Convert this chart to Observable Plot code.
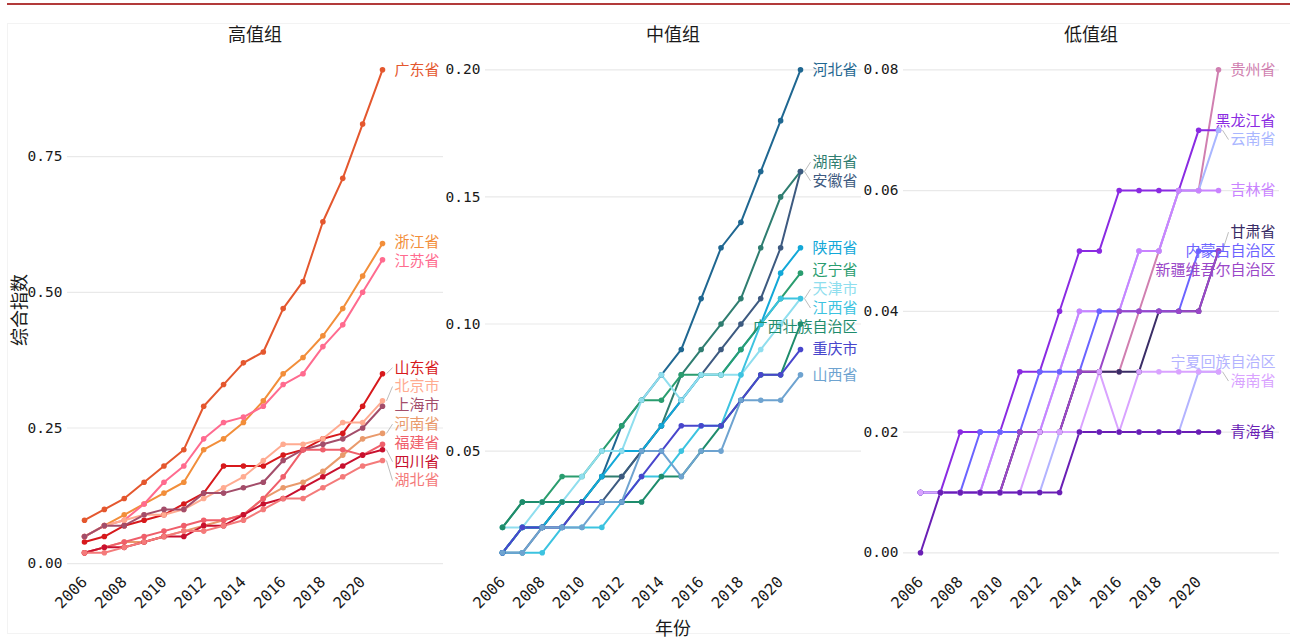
<!DOCTYPE html>
<html><head><meta charset="utf-8">
<script src="https://cdn.jsdelivr.net/npm/d3@7"></script>
<script src="https://cdn.jsdelivr.net/npm/@observablehq/plot@0.6"></script>
<style>
body{margin:0;background:#fff;font-family:"Noto Sans CJK SC",sans-serif;}
#root{position:relative;width:1290px;height:639px;overflow:hidden;background:#fff;}
.abs{position:absolute;white-space:nowrap;}
.title{font-size:18px;color:#1a1a1a;transform:translateX(-50%);top:20px;}
</style></head><body><div id="root"></div>
<script>
// ---------- data ----------
const years = [2006,2007,2008,2009,2010,2011,2012,2013,2014,2015,2016,2017,2018,2019,2020,2021];
const yearTicks = [2006,2008,2010,2012,2014,2016,2018,2020];
const panelTitles = ["高值组","中值组","低值组"];

const highNames = ["广东省","浙江省","江苏省","山东省","北京市","上海市","河南省","福建省","四川省","湖北省"];
const highColors = ["#e4572e","#f28e3a","#ff6b8f","#d7191c","#ffab91","#a34d6a","#e99a6c","#ef5f6b","#c8102e","#f47a7a"];
const highValues = [
  [0.08,0.10,0.12,0.15,0.18,0.21,0.29,0.33,0.37,0.39,0.47,0.52,0.63,0.71,0.81,0.91],
  [0.05,0.07,0.09,0.11,0.13,0.15,0.21,0.23,0.26,0.30,0.35,0.38,0.42,0.47,0.53,0.59],
  [0.05,0.07,0.08,0.11,0.15,0.18,0.23,0.26,0.27,0.29,0.33,0.35,0.40,0.44,0.50,0.56],
  [0.04,0.05,0.07,0.08,0.09,0.11,0.13,0.18,0.18,0.18,0.20,0.21,0.23,0.24,0.29,0.35],
  [0.05,0.07,0.08,0.09,0.09,0.10,0.12,0.14,0.16,0.19,0.22,0.22,0.23,0.26,0.26,0.30],
  [0.05,0.07,0.07,0.09,0.10,0.10,0.13,0.13,0.14,0.15,0.19,0.21,0.22,0.23,0.25,0.29],
  [0.02,0.03,0.04,0.04,0.05,0.06,0.07,0.08,0.09,0.12,0.14,0.15,0.17,0.20,0.23,0.24],
  [0.02,0.03,0.04,0.05,0.06,0.07,0.08,0.08,0.09,0.12,0.16,0.21,0.21,0.21,0.20,0.22],
  [0.02,0.03,0.03,0.04,0.05,0.05,0.07,0.07,0.09,0.11,0.12,0.14,0.16,0.18,0.20,0.21],
  [0.02,0.02,0.03,0.04,0.05,0.06,0.06,0.07,0.08,0.10,0.12,0.12,0.14,0.16,0.18,0.19]
];

const midNames = ["河北省","湖南省","安徽省","陕西省","辽宁省","天津市","江西省","广西壮族自治区","重庆市","山西省"];
const midColors = ["#1f6791","#2f7d70","#3d5a80","#12a8d8","#2a9d6f","#8fdeee","#3cc3e0","#1e8c6c","#4846cc","#6ea3d0"];
const midValues = [
  [0.01,0.02,0.02,0.03,0.03,0.04,0.06,0.07,0.08,0.09,0.11,0.13,0.14,0.16,0.18,0.20],
  [0.01,0.02,0.02,0.03,0.03,0.04,0.04,0.05,0.06,0.08,0.09,0.10,0.11,0.13,0.15,0.16],
  [0.01,0.01,0.02,0.02,0.03,0.03,0.04,0.05,0.06,0.07,0.08,0.09,0.10,0.11,0.13,0.16],
  [0.01,0.02,0.02,0.03,0.03,0.04,0.05,0.05,0.06,0.07,0.08,0.08,0.09,0.10,0.12,0.13],
  [0.02,0.03,0.03,0.04,0.04,0.05,0.06,0.07,0.07,0.08,0.08,0.08,0.09,0.10,0.11,0.12],
  [0.02,0.02,0.03,0.03,0.04,0.05,0.05,0.07,0.08,0.07,0.08,0.08,0.08,0.09,0.10,0.11],
  [0.01,0.01,0.01,0.02,0.02,0.02,0.03,0.04,0.04,0.05,0.06,0.06,0.08,0.10,0.11,0.11],
  [0.02,0.03,0.03,0.03,0.03,0.03,0.03,0.03,0.04,0.04,0.05,0.06,0.07,0.08,0.08,0.10],
  [0.01,0.02,0.02,0.02,0.03,0.03,0.03,0.04,0.05,0.06,0.06,0.06,0.07,0.08,0.08,0.09],
  [0.01,0.01,0.02,0.02,0.02,0.03,0.03,0.05,0.05,0.04,0.05,0.05,0.07,0.07,0.07,0.08]
];

const lowNames = ["贵州省","黑龙江省","云南省","吉林省","甘肃省","内蒙古自治区","新疆维吾尔自治区","宁夏回族自治区","海南省","青海省"];
const lowColors = ["#d07fb0","#8a2be2","#a9b6ff","#c983ff","#3a2d66","#6c63ff","#9a47c8","#b3b3ff","#d9a3ff","#6a1fb5"];
const lowValues = [
  [0.01,0.01,0.01,0.01,0.01,0.02,0.02,0.02,0.03,0.03,0.03,0.04,0.05,0.06,0.06,0.08],
  [0.01,0.01,0.02,0.02,0.02,0.03,0.03,0.04,0.05,0.05,0.06,0.06,0.06,0.06,0.07,0.07],
  [0.01,0.01,0.01,0.01,0.02,0.02,0.02,0.03,0.04,0.04,0.04,0.05,0.05,0.06,0.06,0.07],
  [0.01,0.01,0.01,0.01,0.02,0.02,0.02,0.03,0.04,0.04,0.04,0.05,0.05,0.06,0.06,0.06],
  [0.01,0.01,0.01,0.01,0.01,0.02,0.02,0.02,0.03,0.03,0.03,0.03,0.04,0.04,0.04,0.05],
  [0.01,0.01,0.01,0.02,0.02,0.02,0.03,0.03,0.03,0.04,0.04,0.04,0.04,0.04,0.05,0.05],
  [0.01,0.01,0.01,0.01,0.01,0.02,0.02,0.02,0.03,0.03,0.04,0.04,0.04,0.04,0.04,0.05],
  [0.01,0.01,0.01,0.01,0.01,0.01,0.01,0.02,0.02,0.02,0.02,0.02,0.02,0.02,0.03,0.03],
  [0.01,0.01,0.01,0.01,0.01,0.01,0.02,0.02,0.02,0.03,0.02,0.03,0.03,0.03,0.03,0.03],
  [0.00,0.01,0.01,0.01,0.01,0.01,0.01,0.01,0.02,0.02,0.02,0.02,0.02,0.02,0.02,0.02]
];
const highTicks = [0, 0.25, 0.5, 0.75];
const midTicks = [0.05, 0.10, 0.15, 0.20];
const lowTicks = [0, 0.02, 0.04, 0.06, 0.08];

// ---------- layout ----------
const FONT = '"Noto Sans CJK SC", "Noto Sans", sans-serif';
const MONO = '"DejaVu Sans Mono", "Liberation Mono", monospace';
const H = 639, MT = 45, MB = 69, ML = 45, MR = 12, FW = 376;
const frameLefts = [67, 485, 903];
const firstOff = 17, lastOff = 315;           // pixel offsets of 2006 / 2021 within frame
const step = (lastOff - firstOff) / (years.length - 1);
const xDomain = [years[0] - firstOff / step, years[0] + (FW - firstOff) / step];
const dataTop = 69.3, dataBot = 552.3;

function dodge(px, gap) {
  const idx = px.map((_, i) => i).sort((a, b) => px[a] - px[b]);
  const pos = px.slice();
  for (let it = 0; it < 500; it++) {
    let moved = false;
    for (let k = 1; k < idx.length; k++) {
      const a = idx[k - 1], b = idx[k];
      const d = pos[b] - pos[a];
      if (d < gap - 0.01) { const s = (gap - d) / 2; pos[a] -= s; pos[b] += s; moved = true; }
    }
    if (!moved) break;
  }
  return pos;
}

function panel(names, colors, values, ticks) {
  const rows = [];
  names.forEach((n, i) => years.forEach((yr, j) => rows.push({name: n, year: yr, value: values[i][j]})));
  const all = values.flat();
  const vmin = d3.min(all), vmax = d3.max(all);
  const k = (dataBot - dataTop) / (vmax - vmin);
  const yDomain = [vmin - (H - MB - dataBot) / k, vmax + (dataTop - MT) / k];
  const toPx = v => MT + (yDomain[1] - v) * k;
  const toVal = p => yDomain[1] - (p - MT) / k;
  const lastVals = values.map(v => v[v.length - 1]);
  const lp = dodge(lastVals.map(toPx), 18.8);
  const fs = 15;
  const labels = names.map((n, i) => ({name: n, ly: toVal(lp[i]), v: lastVals[i], shift: Math.abs(lp[i] - toPx(lastVals[i]))}));
  const leaders = [];
  labels.forEach(l => {
    const w = l.name.length * fs;
    const x2 = xDomain[1] - (4 + w + 2) / step;
    const x1 = years[years.length - 1] + 4 / step;
    if (l.shift > 5 && x2 > x1) leaders.push({x1, y1: l.v, x2, y2: l.ly});
  });
  return Plot.plot({
    width: ML + FW + MR, height: H,
    marginLeft: ML, marginRight: MR, marginTop: MT, marginBottom: MB,
    x: {domain: xDomain}, y: {domain: yDomain},
    color: {domain: names, range: colors},
    style: {fontFamily: FONT, fontSize: "15px", background: "transparent", color: "#1a1a1a", overflow: "visible"},
    marks: [
      Plot.ruleY(ticks, {stroke: "#e9e9e9", strokeWidth: 1.2}),
      Plot.axisY({ticks, tickSize: 0, tickPadding: 5, tickFormat: d => d.toFixed(2), label: null, fontSize: 14.5, fontFamily: MONO}),
      Plot.axisX({ticks: yearTicks, tickSize: 0, tickPadding: 9, tickRotate: -45, tickFormat: d => String(d), label: null, fontSize: 15.5, fontFamily: MONO}),
      Plot.line(rows, {x: "year", y: "value", z: "name", stroke: "name", strokeWidth: 2}),
      Plot.dot(rows, {x: "year", y: "value", fill: "name", r: 2.8}),
      Plot.link(leaders, {x1: "x1", y1: "y1", x2: "x2", y2: "y2", stroke: "#b5b5b5", strokeWidth: 0.9}),
      Plot.text(labels, {x: () => xDomain[1], y: "ly", text: "name", fill: "name", textAnchor: "end", dx: -4, fontSize: fs})
    ]
  });
}

const root = document.getElementById("root");
function addDiv(html, css, cls) {
  const d = document.createElement("div");
  d.className = "abs " + (cls || "");
  d.innerHTML = html;
  Object.assign(d.style, css);
  root.appendChild(d);
  return d;
}
// top rule and faint frame
addDiv("", {left: "7px", top: "3px", width: "1283px", height: "2px", background: "#b23a3a"});
addDiv("", {left: "7px", top: "23px", width: "1290px", height: "611px", border: "1px solid #f3f3f3", boxSizing: "border-box"});

const specs = [
  [highNames, highColors, highValues, highTicks],
  [midNames, midColors, midValues, midTicks],
  [lowNames, lowColors, lowValues, lowTicks]
];
specs.forEach((s, i) => {
  const svg = panel(...s);
  svg.style.position = "absolute";
  svg.style.left = (frameLefts[i] - ML) + "px";
  svg.style.top = "0px";
  root.appendChild(svg);
  addDiv(panelTitles[i], {left: (frameLefts[i] + FW / 2) + "px"}, "title");
});
addDiv("综合指数", {left: "18px", top: "310px", fontSize: "18px", color: "#1a1a1a", transform: "translate(-50%,-50%) rotate(-90deg)"});
addDiv("年份", {left: "673px", top: "614px", fontSize: "18px", color: "#1a1a1a", transform: "translateX(-50%)"});
</script></body></html>
